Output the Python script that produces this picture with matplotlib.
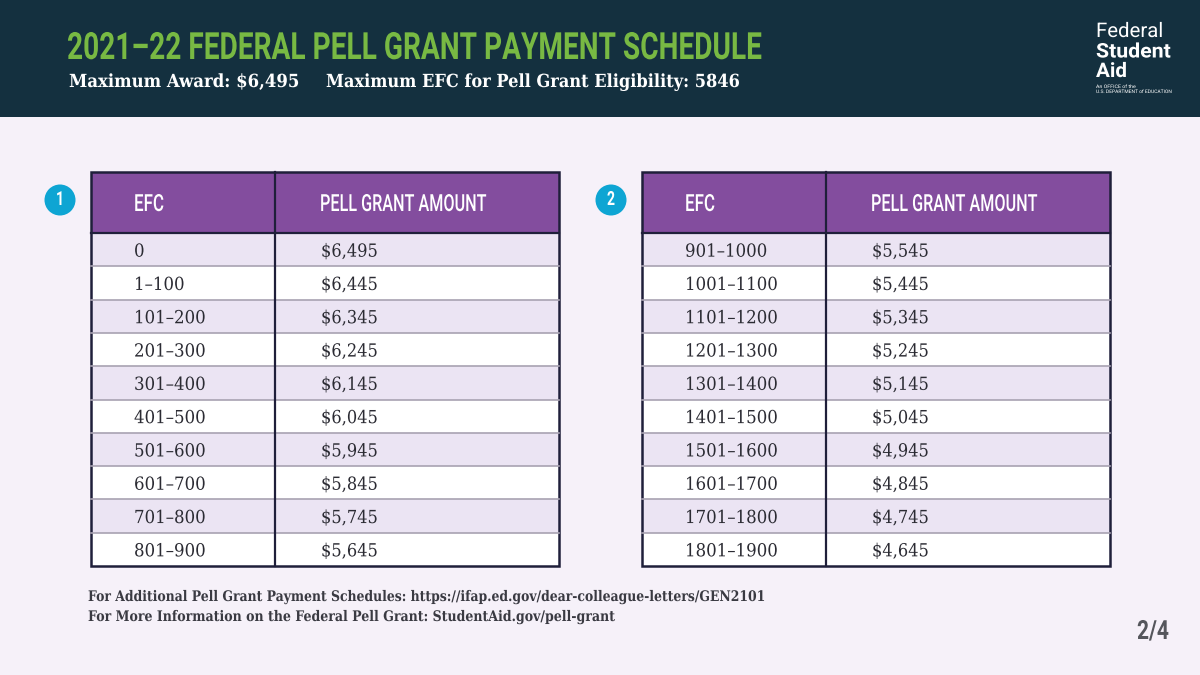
import matplotlib
matplotlib.use("Agg")
import matplotlib.pyplot as plt
import matplotlib.patheffects as pe
from matplotlib.patches import Rectangle, Circle
from matplotlib.transforms import Affine2D

NAVY = "#14303f"
BG = "#f6f1f9"
PURPLE = "#834d9e"
STRIPE = "#ebe4f3"
DARK = "#1f1f3a"
GREEN = "#78b943"
BLUE = "#0ea5d3"
TEXT = "#2b2b33"

CONDENSED = ["Roboto", "DejaVu Sans"]
SERIF = ["DejaVu Serif"]

title = "2021–22 FEDERAL PELL GRANT PAYMENT SCHEDULE"
subtitle_a = "Maximum Award: $6,495"
subtitle_b = "Maximum EFC for Pell Grant Eligibility: 5846"
headers = ["EFC", "PELL GRANT AMOUNT"]

efc_1 = ["0", "1–100", "101–200", "201–300", "301–400", "401–500",
         "501–600", "601–700", "701–800", "801–900"]
amount_1 = ["$6,495", "$6,445", "$6,345", "$6,245", "$6,145", "$6,045",
            "$5,945", "$5,845", "$5,745", "$5,645"]
efc_2 = ["901–1000", "1001–1100", "1101–1200", "1201–1300", "1301–1400",
         "1401–1500", "1501–1600", "1601–1700", "1701–1800", "1801–1900"]
amount_2 = ["$5,545", "$5,445", "$5,345", "$5,245", "$5,145", "$5,045",
            "$4,945", "$4,845", "$4,745", "$4,645"]

notes = ["For Additional Pell Grant Payment Schedules: https://ifap.ed.gov/dear-colleague-letters/GEN2101",
         "For More Information on the Federal Pell Grant: StudentAid.gov/pell-grant"]


class Squeeze(pe.AbstractPathEffect):
    # no condensed fonts here, so narrow the glyphs of a normal Text
    def __init__(self, sx):
        super().__init__()
        self.sx = sx

    def draw_path(self, renderer, gc, tpath, affine, rgbFace=None):
        renderer.draw_path(gc, tpath, Affine2D().scale(self.sx, 1) + affine, rgbFace)


def put_text(ax, x, y, s, sx=1.0, width=None, **kw):
    t = ax.text(x, y, s, va="center", ha="left", **kw)
    if width is not None:
        sx = width / t.get_window_extent(ax.figure.canvas.get_renderer()).width
    t.set_path_effects([Squeeze(sx)])
    return t


def draw_table(ax, left, split, right, badge_x, badge, efc, amount):
    top, head_bottom, bottom = 172, 233, 566
    row_h = (bottom - head_bottom) / len(efc)

    ax.add_patch(Rectangle((left, top), right - left, head_bottom - top, color=PURPLE, lw=0))
    for i in range(len(efc)):
        y = head_bottom + i * row_h
        ax.add_patch(Rectangle((left, y), right - left, row_h,
                               color=STRIPE if i % 2 == 0 else "white", lw=0))
        if i > 0:
            ax.plot([left, right], [y, y], color="#a8a2b2", lw=1.2)
        put_text(ax, left + 43, y + row_h / 2 + 2, efc[i], sx=0.92, family=SERIF,
                 fontsize=13, color=TEXT)
        put_text(ax, split + 46, y + row_h / 2 + 2, amount[i], sx=0.9, family=SERIF,
                 fontsize=13, color=TEXT)

    ax.plot([left, right], [head_bottom, head_bottom], color=DARK, lw=1.6)
    ax.plot([split, split], [top, bottom], color=DARK, lw=1.6)
    ax.add_patch(Rectangle((left, top), right - left, bottom - top, fill=False, ec=DARK, lw=1.8))

    put_text(ax, left + 43, 204.5, headers[0], width=30, family=CONDENSED, fontsize=17,
             weight="medium", color="white")
    put_text(ax, split + 45, 204.5, headers[1], width=167, family=CONDENSED, fontsize=17,
             weight="medium", color="white")

    ax.add_patch(Circle((badge_x, 200), 15.5, color=BLUE, lw=0))
    put_text(ax, badge_x - 4, 200, badge, width=8, family=CONDENSED, fontsize=14,
             weight="bold", color="white")


fig = plt.figure(figsize=(12, 6.75), dpi=100, facecolor=BG)
ax = fig.add_axes([0, 0, 1, 1])
ax.set_xlim(0, 1200)
ax.set_ylim(675, 0)
ax.axis("off")
fig.canvas.draw()

# header band
ax.add_patch(Rectangle((0, 0), 1200, 117, color=NAVY, lw=0))
put_text(ax, 67, 48.5, title, width=695, family=CONDENSED, fontsize=27, weight="bold", color=GREEN)
put_text(ax, 69, 82, subtitle_a, width=230, family=SERIF, fontsize=13, weight="bold", color="white")
put_text(ax, 326, 82, subtitle_b, width=413, family=SERIF, fontsize=13, weight="bold", color="white")

# logo
put_text(ax, 1096, 31.5, "Federal", width=67, family="Roboto", fontsize=14.5, color="white")
put_text(ax, 1096, 52, "Student", width=75, family="Roboto", fontsize=14.5, weight="bold", color="white")
put_text(ax, 1096, 71.5, "Aid", width=31, family="Roboto", fontsize=14.5, weight="bold", color="white")
put_text(ax, 1096, 86.5, "An OFFICE of the", width=40, family="Roboto", fontsize=3.4, color="white")
put_text(ax, 1096, 91.5, "U.S. DEPARTMENT of EDUCATION", width=76, family="Roboto", fontsize=3.4, color="white")

draw_table(ax, 91, 275, 558.5, 60, "1", efc_1, amount_1)
draw_table(ax, 642, 826, 1110, 611, "2", efc_2, amount_2)

put_text(ax, 88, 597, notes[0], width=681, family=SERIF, fontsize=10.5, weight="bold", color="#3a3a42")
put_text(ax, 88, 617, notes[1], width=530, family=SERIF, fontsize=10.5, weight="bold", color="#3a3a42")

put_text(ax, 1137, 632, "2/4", width=32, family=CONDENSED, fontsize=19, weight="bold", color="#55565c")

fig.savefig("out.png", dpi=100, facecolor=BG)
